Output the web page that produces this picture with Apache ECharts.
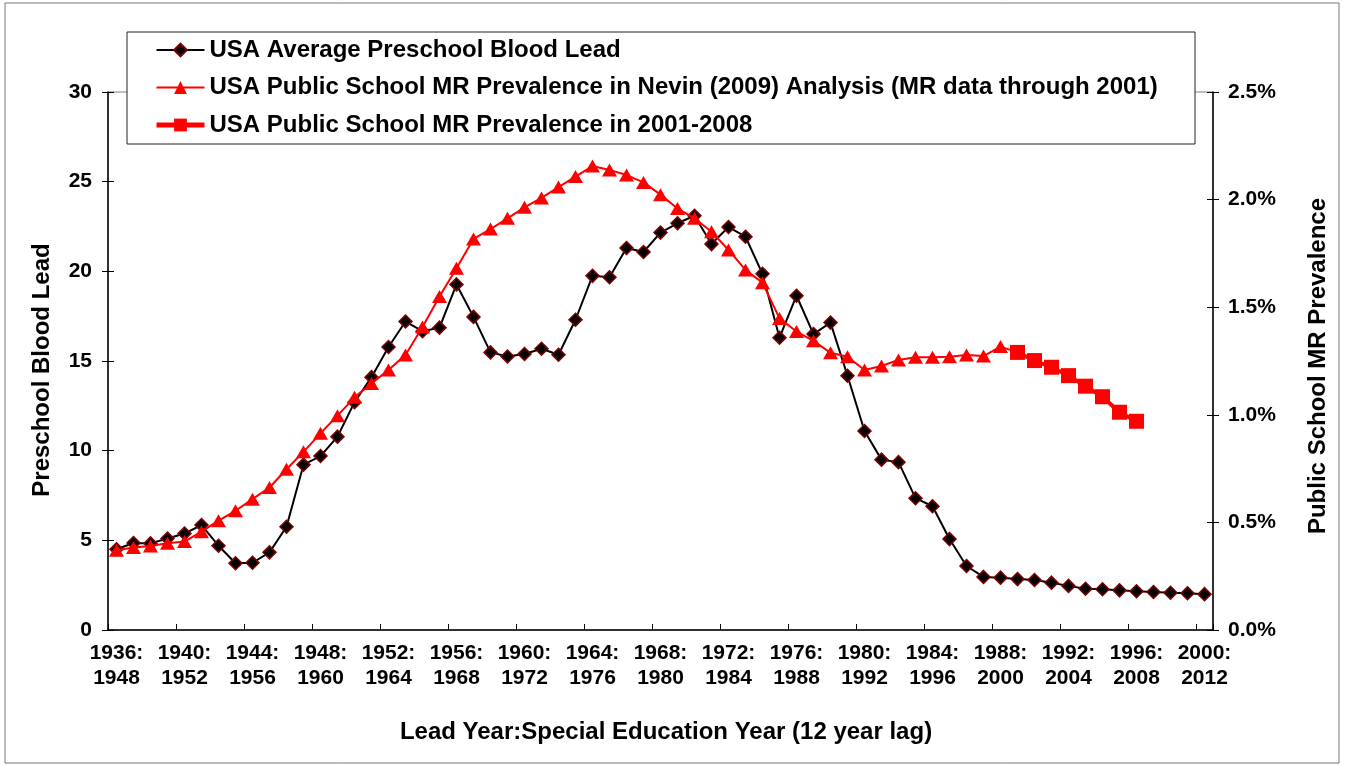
<!DOCTYPE html>
<html>
<head>
<meta charset="utf-8">
<script src="https://cdn.jsdelivr.net/npm/echarts@6/dist/echarts.min.js"></script>
<style>
html, body { margin: 0; padding: 0; background: #fff; }
#chart { width: 1348px; height: 765px; }
</style>
</head>
<body>
<div id="chart"></div>
<script>
// lead year on the x axis, special education year = lead year + lag
const leadYears = [
  1936, 1937, 1938, 1939, 1940, 1941, 1942, 1943, 1944, 1945,
  1946, 1947, 1948, 1949, 1950, 1951, 1952, 1953, 1954, 1955,
  1956, 1957, 1958, 1959, 1960, 1961, 1962, 1963, 1964, 1965,
  1966, 1967, 1968, 1969, 1970, 1971, 1972, 1973, 1974, 1975,
  1976, 1977, 1978, 1979, 1980, 1981, 1982, 1983, 1984, 1985,
  1986, 1987, 1988, 1989, 1990, 1991, 1992, 1993, 1994, 1995,
  1996, 1997, 1998, 1999, 2000
];
const lagYears = 12;

const seriesNames = [
  'USA Average Preschool Blood Lead',
  'USA Public School MR Prevalence in Nevin (2009) Analysis (MR data through 2001)',
  'USA Public School MR Prevalence in 2001-2008'
];

// preschool blood lead, left axis
const bloodLead = [
  4.5, 4.85, 4.83, 5.1, 5.38, 5.85, 4.7, 3.72, 3.75, 4.33,
  5.76, 9.22, 9.7, 10.78, 12.7, 14.1, 15.78, 17.2, 16.66, 16.86,
  19.27, 17.46, 15.48, 15.25, 15.39, 15.68, 15.35, 17.3, 19.75, 19.67,
  21.3, 21.08, 22.16, 22.68, 23.1, 21.52, 22.47, 21.93, 19.86, 16.3,
  18.64, 16.5, 17.14, 14.18, 11.1, 9.5, 9.36, 7.35, 6.9, 5.07,
  3.57, 2.96, 2.92, 2.84, 2.79, 2.64, 2.46, 2.3, 2.27, 2.21,
  2.16, 2.12, 2.08, 2.05, 2.0
];

// MR prevalence (%), right axis, starting at 1936
const nevinMR = [
  0.371, 0.383, 0.390, 0.403, 0.411, 0.457, 0.508, 0.554, 0.608, 0.662,
  0.747, 0.828, 0.914, 0.996, 1.081, 1.146, 1.208, 1.278, 1.408, 1.550,
  1.681, 1.817, 1.863, 1.913, 1.964, 2.008, 2.058, 2.107, 2.156, 2.138,
  2.114, 2.080, 2.023, 1.959, 1.913, 1.851, 1.766, 1.673, 1.614, 1.448,
  1.387, 1.344, 1.288, 1.270, 1.208, 1.227, 1.255, 1.267, 1.267, 1.270,
  1.278, 1.273, 1.317, 1.290
];

// MR prevalence (%) 2001-2008, lead years from 1989
const recentStartYear = 1989;
const recentMR = [1.290, 1.252, 1.221, 1.182, 1.133, 1.084, 1.012, 0.970];

const leftMax = 30, leftStep = 5;
const rightMax = 2.5, rightStep = 0.5;

const font = "'Liberation Sans', Arial, sans-serif";
const labels = leadYears.map(y => y + ':\n' + (y + lagYears));
const nevinData = leadYears.map((y, i) => (i < nevinMR.length ? nevinMR[i] : null));
const recentData = leadYears.map(y => {
  const k = y - recentStartYear;
  return k >= 0 && k < recentMR.length ? recentMR[k] : null;
});

const chart = echarts.init(document.getElementById('chart'));

const boldText = { fontFamily: font, fontWeight: 'bold', color: '#000' };
const innerTicks = { show: true, inside: true, length: 6, lineStyle: { color: '#000', width: 1 } };

chart.setOption({
  animation: false,
  textStyle: { fontFamily: font },
  grid: { left: 108, right: 135, top: 92, bottom: 135, show: true, borderColor: '#808080', borderWidth: 1 },
  legend: {
    orient: 'vertical', left: 154, top: 37, padding: 0, z: 10,
    itemWidth: 48, itemHeight: 16, itemGap: 11.5,
    textStyle: Object.assign({ fontSize: 24, lineHeight: 26 }, boldText),
    data: [
      { name: seriesNames[0], lineStyle: { width: 2 } },
      { name: seriesNames[1], lineStyle: { width: 2 } },
      { name: seriesNames[2], lineStyle: { width: 5 } }
    ]
  },
  graphic: [
    { type: 'rect', z: 5, silent: true, shape: { x: 127, y: 32, width: 1068, height: 112 },
      style: { fill: '#fff', stroke: '#222', lineWidth: 1 } },
    { type: 'rect', z: 0, silent: true, shape: { x: 5, y: 3, width: 1334, height: 760 },
      style: { fill: 'none', stroke: '#777', lineWidth: 1 } }
  ],
  xAxis: [
    {
      type: 'category', data: labels, boundaryGap: true,
      axisLine: { lineStyle: { color: '#000', width: 1.5 } },
      axisTick: { interval: 3, length: 6, lineStyle: { color: '#000' } },
      axisLabel: Object.assign({ interval: 3, fontSize: 21, lineHeight: 25, margin: 11 }, boldText),
      name: 'Lead Year:Special Education Year (12 year lag)',
      nameLocation: 'middle', nameGap: 90,
      nameTextStyle: Object.assign({ fontSize: 24, padding: [0, 0, 0, 11] }, boldText)
    },
    {
      type: 'category', data: labels, boundaryGap: true, position: 'bottom',
      axisLine: { show: false },
      axisTick: Object.assign({ interval: 3 }, innerTicks),
      axisLabel: { show: false }
    }
  ],
  yAxis: [
    {
      type: 'value', position: 'left', min: 0, max: leftMax, interval: leftStep,
      axisLine: { show: true, lineStyle: { color: '#000', width: 1.5 } },
      axisTick: { show: true, length: 6, lineStyle: { color: '#000' } },
      splitLine: { show: false },
      axisLabel: Object.assign({ fontSize: 21, margin: 16 }, boldText),
      name: 'Preschool Blood Lead', nameLocation: 'middle', nameGap: 54, nameRotate: 90,
      nameTextStyle: Object.assign({ fontSize: 24, padding: [0, 18, 0, 0] }, boldText)
    },
    {
      type: 'value', position: 'right', min: 0, max: rightMax, interval: rightStep,
      axisLine: { show: true, lineStyle: { color: '#000', width: 1.5 } },
      axisTick: { show: true, length: 6, lineStyle: { color: '#000' } },
      splitLine: { show: false },
      axisLabel: Object.assign({ fontSize: 21, margin: 15, formatter: v => v.toFixed(1) + '%' }, boldText),
      name: 'Public School MR Prevalence', nameLocation: 'middle', nameGap: 93, nameRotate: 90,
      nameTextStyle: Object.assign({ fontSize: 24, padding: [0, 10, 0, 0] }, boldText)
    },
    {
      type: 'value', position: 'left', min: 0, max: leftMax, interval: leftStep,
      axisLine: { show: false }, axisTick: innerTicks, axisLabel: { show: false }, splitLine: { show: false }
    },
    {
      type: 'value', position: 'right', min: 0, max: rightMax, interval: rightStep,
      axisLine: { show: false }, axisTick: innerTicks, axisLabel: { show: false }, splitLine: { show: false }
    }
  ],
  series: [
    {
      name: seriesNames[0], type: 'line', data: bloodLead, xAxisIndex: 0, yAxisIndex: 0, z: 2,
      symbol: 'diamond', symbolSize: 13, showAllSymbol: true,
      lineStyle: { color: '#000', width: 2 },
      itemStyle: { color: '#000', borderColor: '#800000', borderWidth: 1.5 }
    },
    {
      name: seriesNames[1], type: 'line', data: nevinData, xAxisIndex: 0, yAxisIndex: 1, z: 3,
      symbol: 'triangle', symbolSize: [15, 13], showAllSymbol: true,
      lineStyle: { color: '#ff0000', width: 2 },
      itemStyle: { color: '#ff0000' }
    },
    {
      name: seriesNames[2], type: 'line', data: recentData, xAxisIndex: 0, yAxisIndex: 1, z: 4,
      symbol: 'rect', symbolSize: 15, showAllSymbol: true,
      lineStyle: { color: '#ff0000', width: 4 },
      itemStyle: { color: '#ff0000' }
    }
  ]
});
</script>
</body>
</html>
